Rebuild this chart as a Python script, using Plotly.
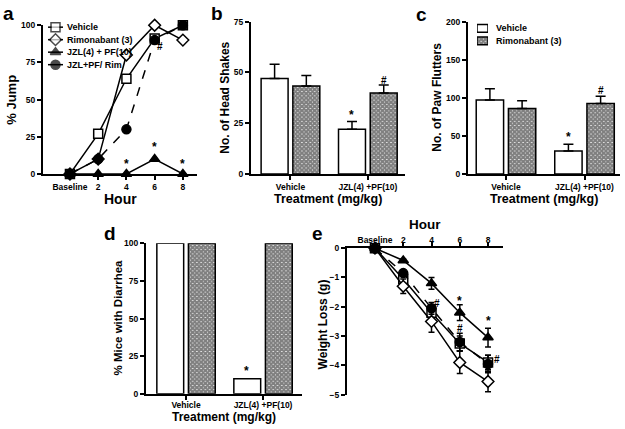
import plotly.graph_objects as go

# ---------------- data ----------------
hours = [0, 2, 4, 6, 8]
hour_labels = ["Baseline", "2", "4", "6", "8"]

series_names = ["Vehicle", "Rimonabant (3)", "JZL(4) + PF(10)", "JZL+PF/ Rim"]

jump_vehicle = [0, 27, 64, 91, 100]
jump_rim = [0, 10, 80, 100, 90]
jump_jzl = [0, 0, 0, 10, 0]
jump_jzl_rim = [0, 10, 30, 90, 100]

treatments = ["Vehicle", "JZL(4) +PF(10)"]
bar_names = ["Vehicle", "Rimonabant (3)"]

head_vehicle = [47, 22]
head_vehicle_err = [7, 3.8]
head_rim = [43.3, 39.8]
head_rim_err = [5.2, 4]

paw_vehicle = [97, 30]
paw_vehicle_err = [15, 9]
paw_rim = [86, 92.5]
paw_rim_err = [10, 9.5]

diarrhea_vehicle = [100, 10]
diarrhea_rim = [100, 100]

wl_vehicle = [0, -1.05, -2.2, -3.25, -3.9]
wl_vehicle_err = [0, 0.15, 0.2, 0.25, 0.25]
wl_rim = [0, -1.3, -2.5, -3.9, -4.55]
wl_rim_err = [0, 0.25, 0.37, 0.38, 0.35]
wl_jzl = [0, -0.42, -1.2, -2.2, -3.05]
wl_jzl_err = [0, 0.05, 0.2, 0.27, 0.32]
wl_jzl_rim = [0, -0.85, -2.05, -3.2, -3.95]
wl_jzl_rim_err = [0, 0.1, 0.2, 0.3, 0.3]

# ---------------- layout helpers ----------------
W, H = 625, 429
FONT = "Liberation Sans, Arial, sans-serif"


def px_x(p):
    return p / W


def px_y(p):
    return 1 - p / H


styles = [
    dict(symbol="square", color="white", dash="solid"),
    dict(symbol="diamond", color="white", dash="solid"),
    dict(symbol="triangle-up", color="black", dash="solid"),
    dict(symbol="circle", color="black", dash="dash"),
]

fig = go.Figure()

# Panel a
for name, vals, st in zip(series_names, [jump_vehicle, jump_rim, jump_jzl, jump_jzl_rim], styles):
    fig.add_trace(go.Scatter(
        x=hours, y=vals, name=name, mode="lines+markers", showlegend=False,
        line=dict(color="black", width=1.5, dash=st["dash"]),
        marker=dict(symbol=st["symbol"], size=9, color=st["color"],
                    line=dict(color="black", width=1.5)),
        cliponaxis=False, xaxis="x", yaxis="y",
    ))

# Panel e
for name, vals, errs, st in zip(series_names,
                                [wl_vehicle, wl_rim, wl_jzl, wl_jzl_rim],
                                [wl_vehicle_err, wl_rim_err, wl_jzl_err, wl_jzl_rim_err],
                                styles):
    fig.add_trace(go.Scatter(
        x=hours, y=vals, name=name, mode="lines+markers", showlegend=False,
        line=dict(color="black", width=1.5, dash=st["dash"]),
        marker=dict(symbol=st["symbol"], size=9, color=st["color"],
                    line=dict(color="black", width=1.5)),
        error_y=dict(type="data", array=errs, color="black", thickness=1.5, width=3),
        cliponaxis=False, xaxis="x5", yaxis="y5",
    ))

checker = dict(shape="x", size=3, solidity=0.9, fgcolor="black", bgcolor="white")
bar_markers = [
    dict(color="white", line=dict(color="black", width=1.5)),
    dict(color="white", pattern=checker, line=dict(color="black", width=1.5)),
]


def err(arr):
    if arr is None:
        return None
    return dict(type="data", array=arr, arrayminus=[0] * len(arr), symmetric=False,
                color="black", thickness=1.5, width=5)


def add_bars(vals_v, err_v, vals_r, err_r, xa, ya):
    fig.add_trace(go.Bar(x=[0, 1], y=vals_v, name=bar_names[0], marker=bar_markers[0],
                         error_y=err(err_v), xaxis=xa, yaxis=ya, showlegend=False))
    fig.add_trace(go.Bar(x=[0, 1], y=vals_r, name=bar_names[1], marker=bar_markers[1],
                         error_y=err(err_r), xaxis=xa, yaxis=ya, showlegend=False))


add_bars(head_vehicle, head_vehicle_err, head_rim, head_rim_err, "x2", "y2")
add_bars(paw_vehicle, paw_vehicle_err, paw_rim, paw_rim_err, "x3", "y3")
add_bars(diarrhea_vehicle, None, diarrhea_rim, None, "x4", "y4")

# ---- compact legends (panel a: line samples; panel c: box samples) ----
for i, (name, st) in enumerate(zip(series_names, styles)):
    fig.add_trace(go.Scatter(
        x=[0, 0.5, 1], y=[i, i, i], mode="lines+markers", showlegend=False, hoverinfo="skip",
        line=dict(color="black", width=1.5, dash="solid"),
        marker=dict(symbol=st["symbol"], size=[0, 9, 0], color=st["color"],
                    line=dict(color="black", width=[0, 1.5, 0])),
        cliponaxis=False, xaxis="x6", yaxis="y6",
    ))
for i, name in enumerate(bar_names):
    fig.add_trace(go.Bar(
        y=[i], x=[1], orientation="h", width=0.62, offset=-0.31, marker=bar_markers[i],
        showlegend=False, hoverinfo="skip", xaxis="x7", yaxis="y7",
    ))

tickfont = dict(family=FONT, size=8.5, color="black", weight="bold")
axis_common = dict(showline=True, linecolor="black", linewidth=2, ticks="outside",
                   ticklen=4, tickwidth=1.5, tickcolor="black", showgrid=False,
                   zeroline=False, tickfont=tickfont)
hidden = dict(visible=False, showgrid=False, zeroline=False, fixedrange=True)

layout = dict(
    width=W, height=H, margin=dict(l=0, r=0, t=0, b=0),
    paper_bgcolor="white", plot_bgcolor="white",
    barmode="group", bargap=0.18, bargroupgap=0.15, showlegend=False,
    font=dict(family=FONT, color="black"),
    # panel a
    xaxis=dict(domain=[px_x(43), px_x(197)], range=[-1.91, 9], tickvals=hours,
               ticktext=hour_labels, anchor="y", **axis_common),
    yaxis=dict(domain=[px_y(173), px_y(20.7)], range=[0, 100], tickvals=[0, 25, 50, 75, 100],
               anchor="x", **axis_common),
    # panel b
    xaxis2=dict(domain=[px_x(251), px_x(405)], range=[-0.51, 1.48], tickvals=[0, 1],
                ticktext=treatments, anchor="y2", **axis_common),
    yaxis2=dict(domain=[px_y(173), px_y(17)], range=[0, 75], tickvals=[0, 25, 50, 75],
                anchor="x2", **axis_common),
    # panel c
    xaxis3=dict(domain=[px_x(468), px_x(620)], range=[-0.484, 1.452], tickvals=[0, 1],
                ticktext=treatments, anchor="y3", **axis_common),
    yaxis3=dict(domain=[px_y(173), px_y(17)], range=[0, 200], tickvals=[0, 50, 100, 150, 200],
                anchor="x3", **axis_common),
    # panel d
    xaxis4=dict(domain=[px_x(146), px_x(302)], range=[-0.52, 1.506], tickvals=[0, 1],
                ticktext=treatments, anchor="y4", ticklabelstandoff=-2, **axis_common),
    yaxis4=dict(domain=[px_y(398), px_y(244)], range=[0, 100], tickvals=[0, 25, 50, 75, 100],
                anchor="x4", **axis_common),
    # panel e
    xaxis5=dict(domain=[px_x(347), px_x(503)], range=[-1.98, 9.06], tickvals=hours,
                ticktext=hour_labels, anchor="y5", side="top", ticklabelstandoff=-4,
                **axis_common),
    yaxis5=dict(domain=[px_y(399), px_y(249)], range=[-5, 0], tickvals=[-5, -4, -3, -2, -1, 0],
                anchor="x5", **axis_common),
    # legend helper axes
    xaxis6=dict(domain=[px_x(48), px_x(63)], range=[0, 1], anchor="y6", **hidden),
    yaxis6=dict(domain=[px_y(67.5), px_y(16.3)], range=[3.5, -0.5], anchor="x6", **hidden),
    xaxis7=dict(domain=[px_x(477), px_x(488)], range=[0, 1], anchor="y7", **hidden),
    yaxis7=dict(domain=[px_y(43), px_y(17.6)], range=[1.5, -0.5], anchor="x7", **hidden),
)
fig.update_layout(**layout)

ann = []


def text(x, y, s, size, angle=0, xref="paper", yref="paper", xanchor="center", yanchor="middle"):
    ann.append(dict(x=x, y=y, text=s, xref=xref, yref=yref, showarrow=False, textangle=angle,
                    xanchor=xanchor, yanchor=yanchor,
                    font=dict(family=FONT, size=size, color="black", weight="bold")))


# panel letters
for letter, (lx, ly) in zip("abcde", [(8, 9), (217, 9), (421, 10), (110, 234), (317, 234)]):
    text(px_x(lx), px_y(ly), letter, 19)

# legend labels
for i, name in enumerate(series_names):
    text(px_x(65), i, name, 9, xref="paper", yref="y6", xanchor="left")
for i, name in enumerate(bar_names):
    text(px_x(494), i, name, 9, xref="paper", yref="y7", xanchor="left")

# axis titles
text(px_x(12), px_y(97), "% Jump", 13, angle=-90)
text(px_x(120), px_y(198.5), "Hour", 14)
text(px_x(225), px_y(95), "No. of Head Shakes", 12, angle=-90)
text(px_x(328), px_y(198.5), "Treatment (mg/kg)", 12.5)
text(px_x(437), px_y(95), "No. of Paw Flutters", 12, angle=-90)
text(px_x(544), px_y(198.5), "Treatment (mg/kg)", 12.5)
text(px_x(118), px_y(320), "% Mice with Diarrhea", 11.5, angle=-90)
text(px_x(224), px_y(421.5), "Treatment (mg/kg)", 12)
text(px_x(323), px_y(327), "Weight Loss (g)", 12, angle=-90)
text(px_x(425), px_y(224.5), "Hour", 13.5)

# significance marks
marks = [
    ("x", "y", [(4, 7, "*"), (6, 18, "*"), (8, 7, "*"), (6.35, 86, "#"), (8, 108, "#")]),
    ("x2", "y2", [(0.79, 29, "*"), (1.21, 46, "#")]),
    ("x3", "y3", [(0.79, 48, "*"), (1.21, 110, "#")]),
    ("x4", "y4", [(0.79, 15, "*"), (1.21, 104, "#")]),
    ("x5", "y5", [(6, -1.8, "*"), (8, -2.5, "*"), (4.4, -1.9, "#"), (6, -2.75, "#"), (8.6, -3.8, "#")]),
]
for xr, yr, items in marks:
    for mx, my, s in items:
        text(mx, my, s, 12 if s == "*" else 10, xref=xr, yref=yr)

fig.update_layout(annotations=ann)
fig.write_html(
    "out.html",
    config={"displayModeBar": False},
    post_script="document.body.style.margin='0';document.body.style.overflow='hidden';",
)
